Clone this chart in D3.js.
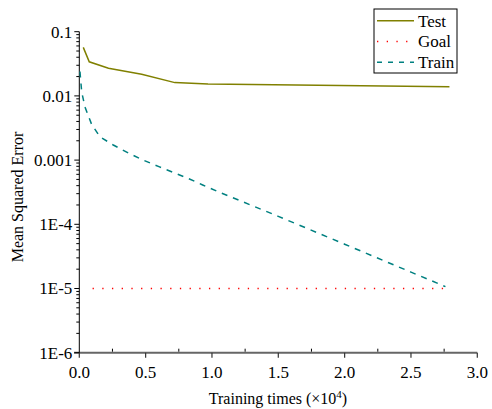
<!DOCTYPE html>
<html>
<head>
<meta charset="utf-8">
<script src="https://cdn.jsdelivr.net/npm/d3@7"></script>
<style>
  body { margin: 0; background: #fff; }
</style>
</head>
<body>
<svg id="svg" width="492" height="409"></svg>
<script>
// training times (x 10^4) and mean squared error
const testX = [0.03, 0.075, 0.22, 0.47, 0.72, 0.97, 2.79];
const testY = [0.057, 0.034, 0.027, 0.0217, 0.0161, 0.0153, 0.0139];

const trainX = [0.005, 0.018, 0.043, 0.093, 0.156, 0.256, 0.369, 0.482, 0.6, 0.71, 0.82, 0.93, 1.05, 1.5, 2.0, 2.5, 2.76];
const trainY = [0.024, 0.0115, 0.0067, 0.0036, 0.0023, 0.00172, 0.00129, 0.001, 0.00079, 0.00064, 0.00052, 0.00041, 0.00032, 1.33e-4, 4.9e-5, 1.8e-5, 1.07e-5];

const goalX = [0.1, 2.77];
const goalY = [1e-5, 1e-5];

const xTicks = [0, 0.5, 1.0, 1.5, 2.0, 2.5, 3.0];
const yTicks = [0.1, 0.01, 0.001, 1e-4, 1e-5, 1e-6];
const yTickLabels = ["0.1", "0.01", "0.001", "1E-4", "1E-5", "1E-6"];

const FONT = "Liberation Serif";

const svg = d3.select("#svg");
const x = d3.scaleLinear().domain([0, 3]).range([79.3, 477.3]);
const y = d3.scaleLog().domain([1e-6, 0.1]).range([352.7, 31.7]);

const zip = (xs, ys) => xs.map((v, i) => [v, ys[i]]);
const line = d3.line().x(d => x(d[0])).y(d => y(d[1]));

// bottom axis
const xAxis = svg.append("g").attr("transform", "translate(0," + y(1e-6) + ")");
xAxis.append("line")
    .attr("x1", 74).attr("x2", x(3))
    .attr("stroke", "#666").attr("stroke-width", 2);
xAxis.selectAll(".minor")
    .data(d3.range(0.25, 3, 0.5))
    .enter().append("line")
    .attr("x1", d => x(d)).attr("x2", d => x(d))
    .attr("y1", -1).attr("y2", -4)
    .attr("stroke", "#000");
xAxis.selectAll(".major")
    .data(xTicks)
    .enter().append("line")
    .attr("x1", d => x(d)).attr("x2", d => x(d))
    .attr("y1", 0).attr("y2", 5)
    .attr("stroke", "#333").attr("stroke-width", 1.2);
xAxis.selectAll("text")
    .data(xTicks)
    .enter().append("text")
    .attr("x", d => x(d))
    .attr("y", 25)
    .attr("text-anchor", "middle")
    .attr("font-family", FONT)
    .attr("font-size", 17)
    .text(d => d.toFixed(1));

// left axis
const yAxis = svg.append("g").attr("transform", "translate(" + x(0) + ",0)");
yAxis.append("line")
    .attr("y1", y(0.1)).attr("y2", y(1e-6))
    .attr("stroke", "#000");
const minor = [];
yTicks.slice(1).forEach(t => { for (let k = 2; k <= 9; k++) minor.push(t * k); });
yAxis.selectAll(".minor")
    .data(minor)
    .enter().append("line")
    .attr("x1", 0).attr("x2", -3)
    .attr("y1", d => y(d)).attr("y2", d => y(d))
    .attr("stroke", "#000");
yAxis.selectAll(".major")
    .data(yTicks)
    .enter().append("line")
    .attr("x1", 0).attr("x2", -5)
    .attr("y1", d => y(d)).attr("y2", d => y(d))
    .attr("stroke", "#000");
yAxis.selectAll("text")
    .data(yTicks)
    .enter().append("text")
    .attr("x", -7)
    .attr("y", d => y(d))
    .attr("dy", "0.35em")
    .attr("text-anchor", "end")
    .attr("font-family", FONT)
    .attr("font-size", 17)
    .text((d, i) => yTickLabels[i]);

// axis titles
const xTitle = svg.append("text")
    .attr("x", 278).attr("y", 404)
    .attr("text-anchor", "middle")
    .attr("font-family", FONT)
    .attr("font-size", 16)
    .text("Training times (\u00d710");
xTitle.append("tspan").attr("dy", -6).attr("font-size", 11).text("4");
xTitle.append("tspan").attr("dy", 6).text(")");

svg.append("text")
    .attr("transform", "translate(23," + 197 + ") rotate(-90)")
    .attr("text-anchor", "middle")
    .attr("font-family", FONT)
    .attr("font-size", 16)
    .text("Mean Squared Error");

// series
svg.append("path")
    .datum(zip(goalX, goalY))
    .attr("d", line)
    .attr("fill", "none")
    .attr("stroke", "#ff0000")
    .attr("stroke-width", 1.3)
    .attr("stroke-dasharray", "1.3,8.4");

svg.append("path")
    .datum(zip(trainX, trainY))
    .attr("d", line)
    .attr("fill", "none")
    .attr("stroke", "#008080")
    .attr("stroke-width", 1.5)
    .attr("stroke-dasharray", "6,6");

svg.append("path")
    .datum(zip(testX, testY))
    .attr("d", line)
    .attr("fill", "none")
    .attr("stroke", "#808000")
    .attr("stroke-width", 1.5);

// legend
const legendItems = [
  { name: "Test", color: "#808000", dash: null, width: 1.5 },
  { name: "Goal", color: "#ff0000", dash: "1.3,8.4", width: 1.3 },
  { name: "Train", color: "#008080", dash: "5,6", width: 1.5 }
];
const legend = svg.append("g").attr("transform", "translate(374,9)");
legend.append("rect")
    .attr("width", 83).attr("height", 64)
    .attr("fill", "#fff").attr("stroke", "#000");
const rows = legend.selectAll("g")
    .data(legendItems)
    .enter().append("g")
    .attr("transform", (d, i) => "translate(0," + (11.7 + i * 20.8) + ")");
rows.append("line")
    .attr("x1", 3).attr("x2", 40)
    .attr("stroke", d => d.color)
    .attr("stroke-width", d => d.width)
    .attr("stroke-dasharray", d => d.dash);
rows.append("text")
    .attr("x", 44)
    .attr("dy", "0.35em")
    .attr("font-family", FONT)
    .attr("font-size", 17)
    .text(d => d.name);
</script>
</body>
</html>
